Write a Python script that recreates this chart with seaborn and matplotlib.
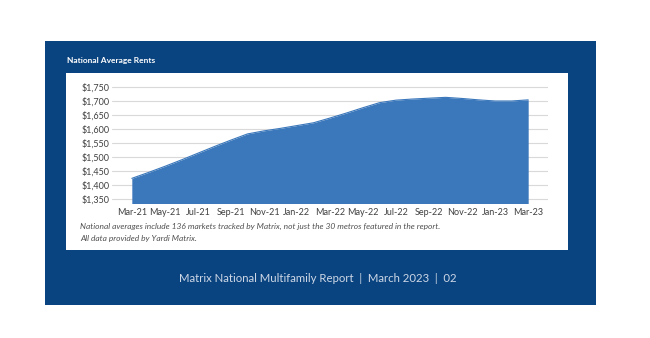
import matplotlib
matplotlib.use("Agg")
import matplotlib.pyplot as plt
import seaborn as sns
import pandas as pd
from matplotlib.patches import Rectangle

months = ["Mar-21", "Apr-21", "May-21", "Jun-21", "Jul-21", "Aug-21", "Sep-21",
          "Oct-21", "Nov-21", "Dec-21", "Jan-22", "Feb-22", "Mar-22", "Apr-22",
          "May-22", "Jun-22", "Jul-22", "Aug-22", "Sep-22", "Oct-22", "Nov-22",
          "Dec-22", "Jan-23", "Feb-23", "Mar-23"]
rents = [1424, 1445, 1467, 1490, 1514, 1538, 1561, 1583, 1594, 1603, 1613, 1623,
         1640, 1658, 1677, 1695, 1704, 1708, 1711, 1714, 1710, 1705, 1701, 1701, 1705]
yticks = [1350, 1400, 1450, 1500, 1550, 1600, 1650, 1700, 1750]

title = "National Average Rents"
note1 = "National averages include 136 markets tracked by Matrix, not just the 30 metros featured in the report."
note2 = "All data provided by Yardi Matrix."
footer = "Matrix National Multifamily Report  |  March 2023  |  02"

NAVY = "#0a4480"
AREA = "#3a77bb"
W, H = 650, 338

sns.set_theme(style="white")
plt.rcParams["font.family"] = ["Lato", "DejaVu Sans"]

fig = plt.figure(figsize=(6.5, 3.38), dpi=100)
fig.patch.set_facecolor("white")

def rect(x0, y0, x1, y1, color):
    fig.patches.append(Rectangle((x0 / W, 1 - y1 / H), (x1 - x0) / W, (y1 - y0) / H,
                                 transform=fig.transFigure, facecolor=color,
                                 edgecolor="none", zorder=-10))

rect(45, 41, 596, 305, NAVY)
rect(66, 73, 568, 250, "white")

ax_l, ax_r = 112, 548
ax_t, ax_b = 85.9, 203.5
ax = fig.add_axes([ax_l / W, 1 - ax_b / H, (ax_r - ax_l) / W, (ax_b - ax_t) / H])
ax.set_facecolor("none")
ax.set_zorder(5)

df = pd.DataFrame({"idx": range(len(months)), "month": months, "rent": rents})
ymin = 1334
sns.lineplot(data=df, x="idx", y="rent", ax=ax, color=AREA, linewidth=0.8, zorder=3)
ax.fill_between(df["idx"], df["rent"], ymin, color=AREA, linewidth=0, zorder=3)

ax.set_xlim(-1.2, 25.2)
ax.set_ylim(ymin, 1755)
ax.set_yticks(yticks)
ax.set_yticklabels([f"${v:,}" for v in yticks])
ax.set_xticks(df["idx"][::2])
ax.set_xticklabels(df["month"][::2])
ax.set_xlabel("")
ax.set_ylabel("")
for ytk in yticks:
    ax.axhline(ytk, color="#d9d9d9", linewidth=0.8, zorder=1)
ax.grid(False)
for s in ax.spines.values():
    s.set_visible(False)
ax.tick_params(axis="both", length=0, labelsize=6.5, colors="#404040")
ax.tick_params(axis="y", pad=2)
ax.tick_params(axis="x", pad=3)

fig.text(67 / W, 1 - 60 / H, title, color="white", fontsize=6, fontweight="bold",
         ha="left", va="center")
fig.text(80 / W, 1 - 226.5 / H, note1, color="#505050", fontsize=6, style="italic",
         ha="left", va="center")
fig.text(80 / W, 1 - 238.5 / H, note2, color="#505050", fontsize=6, style="italic",
         ha="left", va="center")
fig.text(318 / W, 1 - 278 / H, footer, color="#cdd7e6", fontsize=8.2,
         ha="center", va="center")

fig.savefig("out.png", dpi=100, facecolor="white")
